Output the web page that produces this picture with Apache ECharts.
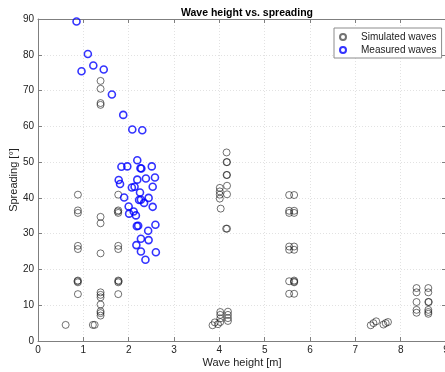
<!DOCTYPE html>
<html>
<head>
<meta charset="utf-8">
<script src="https://cdn.jsdelivr.net/npm/echarts@6/dist/echarts.min.js"></script>
<style>
  html, body { margin: 0; padding: 0; background: #fff; }
  #chart { width: 445px; height: 372px; }
</style>
</head>
<body>
<div id="chart"></div>
<script>
// Simulated sea states: significant wave height [m] and directional spreading [deg]
const simulatedHeight = [
  0.88, 0.88, 0.88, 0.88, 0.88, 0.88, 0.88, 0.88, 0.87,
  1.38, 1.38, 1.38, 1.38, 1.38, 1.38, 1.38,
  1.38, 1.38, 1.38, 1.38, 1.38, 1.38, 1.38,
  1.77, 1.77, 1.77, 1.77, 1.77, 1.77, 1.77, 1.77, 1.78, 1.76,
  0.61, 1.21, 1.25,
  4.16, 4.16, 4.17, 4.16, 4.17, 4.17, 4.17, 4.01, 4.01, 4.01, 4.01, 4.03, 4.17, 4.15,
  3.85, 3.90, 3.97, 4.02, 4.02, 4.02, 4.02, 4.19, 4.19, 4.19, 4.19,
  5.54, 5.54, 5.54, 5.54, 5.54, 5.54, 5.54,
  5.65, 5.65, 5.65, 5.65, 5.65, 5.65, 5.65, 5.65, 5.65,
  7.34, 7.40, 7.46, 7.62, 7.67, 7.72,
  8.35, 8.35, 8.35, 8.35, 8.35,
  8.61, 8.61, 8.61, 8.62, 8.61, 8.61, 8.61
];
const simulatedSpread = [
  40.9, 36.5, 35.8, 26.6, 25.7, 16.9, 16.4, 13.1, 16.7,
  72.7, 70.5, 66.5, 66.0, 34.7, 32.9, 24.5,
  13.6, 12.9, 12.2, 10.2, 8.3, 7.8, 7.1,
  40.9, 36.5, 35.8, 26.6, 25.7, 16.9, 16.4, 13.1, 16.7, 36.2,
  4.5, 4.5, 4.5,
  52.7, 50.0, 50.0, 46.4, 46.4, 43.4, 41.0, 42.8, 41.8, 40.9, 39.8, 37.0, 31.4, 31.4,
  4.4, 5.2, 4.7, 5.3, 6.3, 7.3, 8.1, 5.6, 6.4, 7.3, 8.2,
  40.8, 36.4, 35.8, 26.4, 25.5, 16.7, 13.2,
  40.8, 36.4, 35.8, 26.4, 25.5, 16.9, 16.4, 16.6, 13.2,
  4.4, 5.0, 5.5, 4.6, 5.0, 5.3,
  14.8, 13.6, 10.9, 8.7, 7.9,
  14.8, 13.6, 10.9, 10.9, 8.7, 8.1, 7.6
];

// Buoy measurements
const measuredHeight = [
  0.85, 1.10, 0.96, 1.22, 1.45, 1.63, 1.88, 2.08, 2.30,
  2.19, 1.84, 1.97, 2.26, 2.28, 2.51, 1.78, 1.81, 2.19, 2.38, 2.58,
  2.07, 2.13, 2.53, 2.25, 1.90, 2.44, 2.23, 2.27, 2.34, 2.53,
  2.00, 2.01, 2.11, 2.16, 2.18, 2.21, 2.59, 2.43, 2.27, 2.44,
  2.17, 2.27, 2.60, 2.37
];
const measuredSpread = [
  89.3, 80.2, 75.4, 77.0, 75.9, 68.9, 63.2, 59.1, 58.9,
  50.5, 48.7, 48.8, 48.3, 48.2, 48.8, 45.0, 43.9, 45.1, 45.4, 45.7,
  42.9, 43.1, 43.1, 41.5, 40.1, 40.0, 39.4, 39.5, 38.6, 37.5,
  37.6, 35.6, 36.2, 35.1, 32.1, 32.2, 32.5, 30.8, 28.6, 28.2,
  26.8, 25.0, 24.8, 22.7
];

const xTicks = [0, 1, 2, 3, 4, 5, 6, 7, 8, 9];
const yTicks = [0, 10, 20, 30, 40, 50, 60, 70, 80, 90];

const pairs = (xs, ys) => xs.map((x, i) => [x, ys[i]]);

const FONT = '"Liberation Sans", Arial, Helvetica, sans-serif';
const axisGray = '#7f7f7f';
const gridStyle = { show: true, lineStyle: { color: '#e2e2e2', type: [1, 2], width: 1 } };

const chart = echarts.init(document.getElementById('chart'), null, { renderer: 'canvas' });

const baseX = {
  type: 'value',
  min: xTicks[0],
  max: xTicks[xTicks.length - 1],
  interval: 1,
  axisLine: { show: true, onZero: false, lineStyle: { color: axisGray, width: 1 } },
  axisTick: { show: true, inside: true, length: 4, lineStyle: { color: axisGray } }
};
const baseY = {
  type: 'value',
  min: yTicks[0],
  max: yTicks[yTicks.length - 1],
  interval: 10,
  axisLine: { show: true, onZero: false, lineStyle: { color: axisGray, width: 1 } },
  axisTick: { show: true, inside: true, length: 4, lineStyle: { color: axisGray } }
};

chart.setOption({
  animation: false,
  backgroundColor: '#fff',
  textStyle: { fontFamily: FONT },
  title: {
    text: 'Wave height vs. spreading',
    left: 242,
    textAlign: 'center',
    top: 3,
    textStyle: { fontFamily: FONT, fontSize: 10.5, fontWeight: 'bold', color: '#000' }
  },
  legend: {
    orient: 'vertical',
    left: 334,
    top: 28,
    width: 109,
    padding: [4, 5, 3, 5],
    itemGap: 3,
    itemWidth: 26,
    itemHeight: 6,
    backgroundColor: '#fff',
    borderColor: '#8c8c8c',
    borderWidth: 1,
    borderRadius: 0,
    textStyle: { fontFamily: FONT, fontSize: 10, color: '#222' },
    data: ['Simulated waves', 'Measured waves']
  },
  grid: { left: 38, top: 19, width: 408, height: 322, containLabel: false, outerBoundsMode: 'none' },
  xAxis: [
    Object.assign({}, baseX, {
      position: 'bottom',
      name: 'Wave height [m]',
      nameLocation: 'middle',
      nameGap: 16,
      nameMoveOverlap: false,
      nameTextStyle: { fontFamily: FONT, fontSize: 11, color: '#222' },
      axisLabel: { color: '#222', fontSize: 10, fontFamily: FONT, margin: 4 },
      splitLine: gridStyle
    }),
    Object.assign({}, baseX, {
      position: 'top',
      axisLabel: { show: false },
      splitLine: { show: false }
    })
  ],
  yAxis: [
    Object.assign({}, baseY, {
      position: 'left',
      name: 'Spreading [°]',
      nameLocation: 'middle',
      nameGap: 19,
      nameMoveOverlap: false,
      nameTextStyle: { fontFamily: FONT, fontSize: 11, color: '#222' },
      axisLabel: { color: '#222', fontSize: 10, fontFamily: FONT, margin: 4 },
      splitLine: gridStyle
    }),
    Object.assign({}, baseY, {
      position: 'right',
      axisLabel: { show: false },
      splitLine: { show: false }
    })
  ],
  series: [
    {
      name: 'Simulated waves',
      type: 'scatter',
      xAxisIndex: 0,
      yAxisIndex: 0,
      symbol: 'circle',
      symbolSize: 7,
      itemStyle: { color: 'rgba(0,0,0,0)', borderColor: 'rgba(20,20,20,0.75)', borderWidth: 1 },
      emphasis: { disabled: true },
      data: pairs(simulatedHeight, simulatedSpread)
    },
    {
      name: 'Measured waves',
      type: 'scatter',
      xAxisIndex: 0,
      yAxisIndex: 0,
      symbol: 'circle',
      symbolSize: 7,
      itemStyle: { color: 'rgba(0,0,0,0)', borderColor: '#0000ff', borderWidth: 1.6 },
      emphasis: { disabled: true },
      data: pairs(measuredHeight, measuredSpread)
    }
  ]
});
</script>
</body>
</html>
